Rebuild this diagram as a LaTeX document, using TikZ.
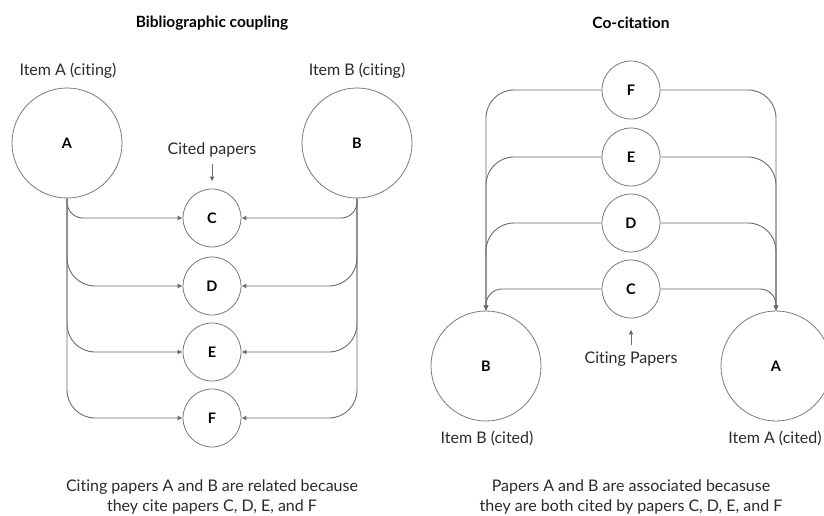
\documentclass[tikz,border=0pt]{standalone}
\usepackage{fontspec}
\setmainfont{Lato}[Ligatures=NoCommon]
\usetikzlibrary{arrows.meta}

\definecolor{ringgray}{HTML}{7A7A7A}
\definecolor{linegray}{HTML}{6A6A6A}
\definecolor{txtgray}{HTML}{2A2A2A}

\begin{document}
\begin{tikzpicture}[x=1pt,y=-1pt,
    item/.style={circle,draw=ringgray,line width=0.8pt,minimum size=110pt,inner sep=0pt,
        text=black,font=\bfseries\fontsize{14.5}{14.5}\selectfont},
    paper/.style={item,minimum size=58pt},
    link/.style={draw=linegray,line width=0.9pt,-{Latex[length=5pt,width=5pt]}},
    lbl/.style={text=txtgray,inner sep=0pt,font=\fontsize{16}{20}\selectfont},
    headline/.style={text=black,inner sep=0pt,font=\bfseries\fontsize{15.5}{15.5}\selectfont}]
    \clip (0,0) rectangle (824,516);

    % bibliographic coupling
    \node[headline] (titleBC) at (212,23) {Bibliographic coupling};
    \node[lbl] (citingA) at (68,71) {Item A (citing)};
    \node[lbl] (citingB) at (357,71) {Item B (citing)};
    \node[item] (bA) at (67,143) {A};
    \node[item] (bB) at (357,143) {B};
    \node[lbl] (cited) at (212,150) {Cited papers};
    \foreach \n/\y in {C/218,D/286,E/352,F/418}
        \node[paper] (b\n) at (212,\y) {\n};
    \draw[link,shorten <=7pt,shorten >=7pt] (cited) -- (bC);
    \draw[link,rounded corners=16] (bA.south) |- (bC.west);
    \draw[link,rounded corners=16] (bB.south) |- (bC.east);
    \foreach \n in {D,E,F}{
        \draw[link,rounded corners=28] (bA.south) |- (b\n.west);
        \draw[link,rounded corners=28] (bB.south) |- (b\n.east);
    }
    \node[lbl,align=center] (noteBC) at (212,497) {Citing papers A and B are related because\\they cite papers C, D, E, and F};

    % co-citation
    \node[headline] (titleCC) at (631,23) {Co-citation};
    \foreach \n/\y in {F/90,E/157,D/223,C/289}
        \node[paper] (c\n) at (631,\y) {\n};
    \node[item] (cB) at (486,366) {B};
    \node[item] (cA) at (776,366) {A};
    \node[lbl] (citing) at (631,359) {Citing Papers};
    \draw[link,shorten <=7pt,shorten >=11pt] (citing) -- (cC);
    \draw[link,rounded corners=16] (cC.west) -| (cB.north);
    \draw[link,rounded corners=16] (cC.east) -| (cA.north);
    \foreach \n in {D,E,F}{
        \draw[link,rounded corners=28] (c\n.west) -| (cB.north);
        \draw[link,rounded corners=28] (c\n.east) -| (cA.north);
    }
    \node[lbl] (citedB) at (487,438) {Item B (cited)};
    \node[lbl] (citedA) at (775,438) {Item A (cited)};
    \node[lbl,align=center] (noteCC) at (631,497) {Papers A and B are associated becasuse\\they are both cited by papers C, D, E, and F};
\end{tikzpicture}
\end{document}
